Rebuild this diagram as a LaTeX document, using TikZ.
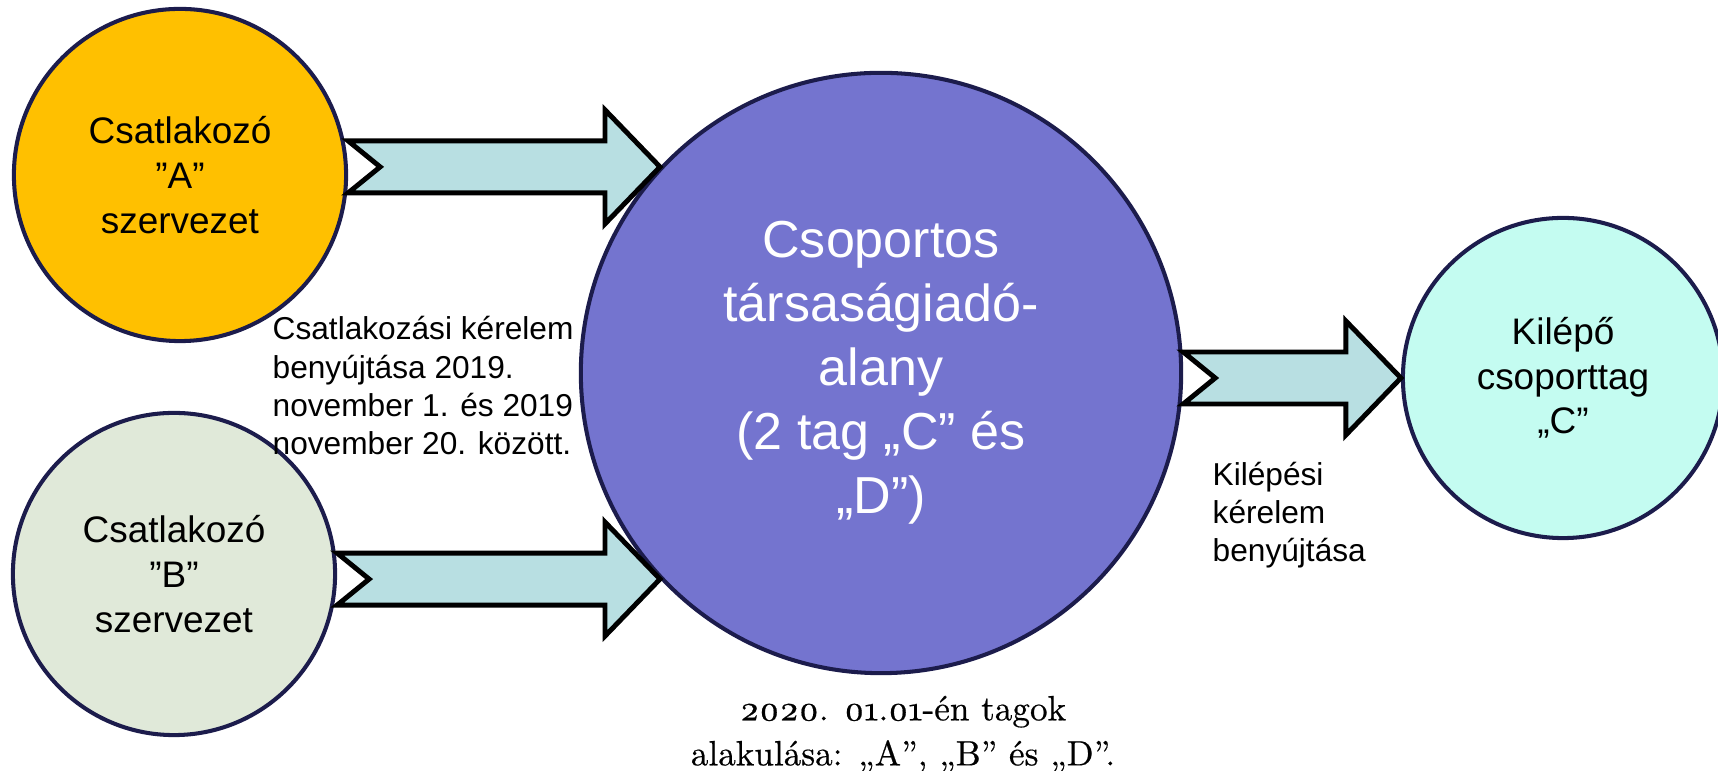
\documentclass[tikz,border=0pt]{standalone}
\usepackage{fontspec}
\setmainfont{Liberation Sans}
\newfontfamily\datefont[Numbers=OldStyle, FakeBold=0.5]{Latin Modern Roman}
\usepackage{xcolor}
\definecolor{ffc000}{HTML}{ffc000}
\definecolor{e0e9d9}{HTML}{e0e9d9}
\definecolor{7474cf}{HTML}{7474cf}
\definecolor{c4fcf1}{HTML}{c4fcf1}
\definecolor{b8dfe2}{HTML}{b8dfe2}
\definecolor{1c1c4c}{HTML}{1c1c4c}
\usepackage{tikz}
\usetikzlibrary{calc}

% block arrow: tail x from #1, tip at #2
\newcommand{\blockarrow}[2]{%
    \draw[arrowbody] let \p1 = (#1), \p2 = (#2) in
        (\x1, \y2+.26cm) -- (\x2-.55cm, \y2+.26cm) -- (\x2-.55cm, \y2+.57cm) -- (\x2, \y2)
        -- (\x2-.55cm, \y2-.57cm) -- (\x2-.55cm, \y2-.26cm) -- (\x1, \y2-.26cm)
        -- (\x1+.32cm, \y2) -- cycle;}

\begin{document}
\begin{tikzpicture}[x=0.01cm, y=-0.01cm,
            member/.style={circle, draw=1c1c4c, line width=1.15pt, inner sep=0pt, align=center},
            arrowbody/.style={draw=black, fill=b8dfe2, line width=1.4pt, line join=miter},
            note/.style={align=left, inner sep=0pt, font=\fontsize{9}{10.9}\selectfont}]

            \useasboundingbox (0, 0) rectangle (1718, 771);

            \node[member, fill=ffc000, minimum size=3.32cm, font=\fontsize{10.5}{12.8}\selectfont] (A) at (180, 175) {Csatlakozó\\”A”\\szervezet};
            \node[member, fill=e0e9d9, minimum size=3.22cm, font=\fontsize{10.5}{12.8}\selectfont] (B) at (174, 574) {Csatlakozó\\”B”\\szervezet};
            \node[member, fill=7474cf, minimum size=6cm, text=white, font=\fontsize{14.8}{18.2}\selectfont] (big) at (881, 373) {Csoportos\\társaságiadó-\\alany\\(2 tag „C” és\\„D”)};
            \node[member, fill=c4fcf1, minimum size=3.2cm, font=\fontsize{10.5}{12.6}\selectfont] (C) at (1563, 378) {Kilépő\\csoporttag\\„C”};

            \blockarrow{A.east}{big.137}
            \blockarrow{B.east}{big.223}
            \blockarrow{big.east}{C.west}

            \node[note, anchor=west] (join) at (272, 386) {Csatlakozási kérelem\\benyújtása 2019.\\november 1. és 2019\\november 20. között.};
            \node[note, anchor=west] (leave) at (1212, 515) {Kilépési\\kérelem\\benyújtása};
            \node[align=center, inner sep=0pt, font=\datefont\fontsize{10}{12.8}\selectfont] (date) at (903, 734) {2020. 01.01-én tagok\\alakulása: „A”, „B” és „D”.};
\end{tikzpicture}
\end{document}
